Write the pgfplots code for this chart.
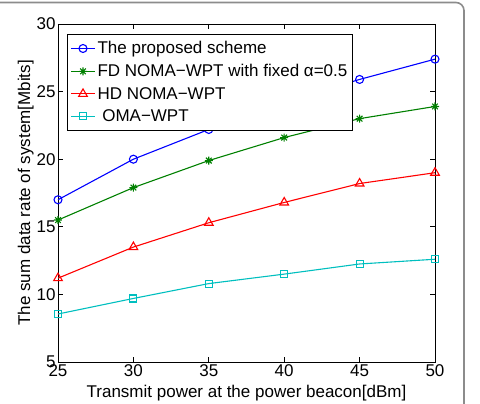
\documentclass[border=0pt]{standalone}
\usepackage{fontspec}
\setmainfont{Liberation Sans}
\usepackage{pgfplots}
\pgfplotsset{compat=1.18}

\definecolor{mblue}{rgb}{0,0,1}
\definecolor{mgreen}{rgb}{0,0.5,0}
\definecolor{mred}{rgb}{1,0,0}
\definecolor{mcyan}{rgb}{0,0.75,0.75}

% MATLAB-style asterisk: a plus and a cross on top of each other
\pgfdeclareplotmark{mstar}{%
  \pgfpathmoveto{\pgfqpoint{-\pgfplotmarksize}{0pt}}%
  \pgfpathlineto{\pgfqpoint{\pgfplotmarksize}{0pt}}%
  \pgfpathmoveto{\pgfqpoint{0pt}{-\pgfplotmarksize}}%
  \pgfpathlineto{\pgfqpoint{0pt}{\pgfplotmarksize}}%
  \pgfpathmoveto{\pgfqpoint{-0.707\pgfplotmarksize}{-0.707\pgfplotmarksize}}%
  \pgfpathlineto{\pgfqpoint{0.707\pgfplotmarksize}{0.707\pgfplotmarksize}}%
  \pgfpathmoveto{\pgfqpoint{-0.707\pgfplotmarksize}{0.707\pgfplotmarksize}}%
  \pgfpathlineto{\pgfqpoint{0.707\pgfplotmarksize}{-0.707\pgfplotmarksize}}%
  \pgfusepathqstroke}

\begin{document}
\begin{tikzpicture}[font=\fontsize{17}{20}\selectfont]
\useasboundingbox (-58pt,-42pt) rectangle (422pt,362pt);
\begin{scope}
\clip (-58pt,-42pt) rectangle (422pt,362pt);
\draw[gray!90, line width=1.6pt, rounded corners=8pt] (-80pt,-80pt) rectangle (406pt,359.5pt);
\end{scope}
\begin{axis}[
  at={(0pt,0pt)}, anchor=south west,
  scale only axis, width=377pt, height=338pt,
  xmin=25, xmax=50, ymin=5, ymax=30,
  xtick={25,30,...,50}, ytick={5,10,...,30},
  tick align=inside, major tick length=5pt,
  axis line style={line width=0.9pt},
  every tick/.style={black, line width=0.9pt},
  /pgf/number format/assume math mode=true,
  tick label style={font=\fontsize{17}{20}\selectfont},
  xticklabel style={yshift=1pt},
  yticklabel style={xshift=1pt},
  xlabel={Transmit power at the power beacon[dBm]},
  ylabel={The sum data rate of system[Mbits]},
  xlabel style={yshift=-2pt},
  ylabel style={yshift=-4pt},
  label style={font=\fontsize{17}{20}\selectfont},
  legend cell align=left,
  legend style={at={(rel axis cs:0.0239,0.970)}, anchor=north west,
    draw=black, line width=0.9pt, font=\fontsize{17}{20}\selectfont,
    inner xsep=3pt, inner ysep=5pt, row sep=5pt},
  legend image code/.code={%
    \draw[mark repeat=2,mark phase=2] plot coordinates {(0pt,0pt) (12pt,0pt) (24pt,0pt)};},
  every axis plot/.append style={line width=1.1pt},
]
\addplot[mblue, mark=o, mark size=4pt, mark options={line width=1.1pt}] coordinates {
  (25,17.0) (30,20.0) (35,22.2) (40,24.2) (45,25.9) (50,27.4)};
\addlegendentry{The proposed scheme}
\addplot[mgreen, mark=mstar, mark size=4pt, mark options={line width=1.1pt}] coordinates {
  (25,15.5) (30,17.9) (35,19.9) (40,21.6) (45,23.0) (50,23.9)};
\addlegendentry{FD NOMA−WPT with fixed α=0.5}
\addplot[mred, mark=triangle, mark size=5pt, mark options={line width=1.1pt}] coordinates {
  (25,11.2) (30,13.5) (35,15.3) (40,16.8) (45,18.2) (50,19.0)};
\addlegendentry{HD NOMA−WPT}
\addplot[mcyan, mark=square, mark size=3.5pt, mark options={line width=1.1pt}] coordinates {
  (25,8.55) (30,9.7) (35,10.8) (40,11.5) (45,12.25) (50,12.6)};
\addlegendentry{\ OMA−WPT}
\end{axis}
\end{tikzpicture}
\end{document}
